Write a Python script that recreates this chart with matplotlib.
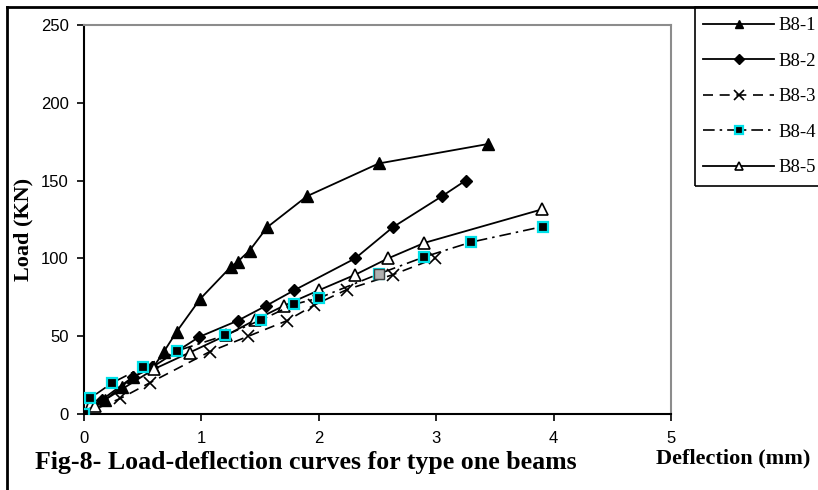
import matplotlib
matplotlib.use("Agg")
import matplotlib.pyplot as plt
from matplotlib.lines import Line2D
from matplotlib.patches import Rectangle

# ---- data ----
b81_x = [0.0, 0.18, 0.32, 0.42, 0.59, 0.68, 0.79, 0.99, 1.25, 1.31, 1.41, 1.56, 1.90, 2.51, 3.44]
b81_y = [0, 9, 17.5, 24, 30, 40, 53, 74, 94.5, 98, 105, 120, 140, 161, 173.5]

b82_x = [0.0, 0.15, 0.42, 0.58, 0.98, 1.31, 1.55, 1.79, 2.31, 2.63, 3.05, 3.25]
b82_y = [0, 9, 24, 30, 49.5, 60, 69.5, 79.5, 100, 120, 140, 150]

b83_x = [0.0, 0.31, 0.56, 1.07, 1.40, 1.73, 1.96, 2.24, 2.63, 2.99]
b83_y = [0, 10, 20, 40, 50, 60, 70, 80, 89.5, 100]

b84_x = [0.0, 0.05, 0.24, 0.50, 0.79, 1.20, 1.51, 1.79, 2.0, 2.51, 2.90, 3.30, 3.91]
b84_y = [0, 10, 20, 30, 40.5, 50.5, 60.5, 70.5, 74.5, 90, 101, 110.5, 120.5]
b84_gray_index = 9

b85_x = [0.0, 0.09, 0.60, 0.90, 1.21, 1.46, 1.70, 2.0, 2.31, 2.59, 2.90, 3.90]
b85_y = [0, 5, 29, 39.5, 50.5, 60.5, 69.5, 79.5, 89.5, 100, 110, 131.5]

series_names = ["B8-1", "B8-2", "B8-3", "B8-4", "B8-5"]
x_ticks = [0, 1, 2, 3, 4, 5]
y_ticks = [0, 50, 100, 150, 200, 250]

W, H = 818, 490
fig = plt.figure(figsize=(W / 100, H / 100), dpi=100)
fig.patch.set_facecolor("white")

ax = fig.add_axes([84 / W, 1 - 414 / H, (671 - 84) / W, (414 - 25) / H])

ms = 8
l1, = ax.plot(b81_x, b81_y, color="black", lw=1.3, ls="-", marker="^", ms=ms,
              mfc="black", mec="black", label=series_names[0], zorder=3)
l2, = ax.plot(b82_x, b82_y, color="black", lw=1.3, ls="-", marker="D", ms=6,
              mfc="black", mec="black", label=series_names[1], zorder=3)
l3, = ax.plot(b83_x, b83_y, color="black", lw=1.2, ls=(0, (6, 4)), marker="x", ms=9,
              mew=1.2, mec="black", label=series_names[2], zorder=3)
l4, = ax.plot(b84_x, b84_y, color="black", lw=1.2, ls=(0, (7, 3, 1.5, 3)), marker="s", ms=7,
              mfc="black", mec="#00e0e8", mew=1.6, label=series_names[3], zorder=4)
ax.plot([b84_x[b84_gray_index]], [b84_y[b84_gray_index]], ls="none", marker="s", ms=7,
        mfc="#b0b0b0", mec="#404040", mew=1.0, zorder=5)
l5, = ax.plot(b85_x, b85_y, color="black", lw=1.3, ls="-", marker="^", ms=ms,
              mfc="white", mec="black", mew=1.2, label=series_names[4], zorder=3)

ax.set_xlim(0, 5)
ax.set_ylim(0, 250)
ax.set_xticks(x_ticks)
ax.set_yticks(y_ticks)
ax.tick_params(direction="out", length=5, width=1.2, labelsize=12, colors="black")
for lab in ax.get_xticklabels() + ax.get_yticklabels():
    lab.set_fontfamily("Liberation Sans")
ax.tick_params(axis="x", pad=7)
ax.tick_params(axis="y", pad=6)
for s in ["left", "bottom"]:
    ax.spines[s].set_color("black")
    ax.spines[s].set_linewidth(1.5)
for s in ["top", "right"]:
    ax.spines[s].set_color("#8c8c8c")
    ax.spines[s].set_linewidth(1.5)

serif = "Liberation Serif"
fig.text(23 / W, 1 - 229 / H, "Load (KN)", rotation=90, ha="center", va="center",
         fontsize=16, fontweight="bold", family=serif)
fig.text(733 / W, 1 - 458 / H, "Deflection (mm)", ha="center", va="center",
         fontsize=16, fontweight="bold", family=serif)
fig.text(35 / W, 1 - 462 / H, "Fig-8- Load-deflection curves for type one beams",
         ha="left", va="center", fontsize=18.6, fontweight="bold", family=serif)

# outer border
fig.add_artist(Line2D([7 / W, 1.0], [1 - 7 / H, 1 - 7 / H], color="black", lw=2,
                      transform=fig.transFigure))
fig.add_artist(Line2D([7 / W, 7 / W], [0, 1 - 7 / H], color="black", lw=2,
                      transform=fig.transFigure))

# legend box
fig.add_artist(Rectangle((695 / W, 1 - 186 / H), (W - 695 + 5) / W, (186 - 7) / H,
                         transform=fig.transFigure, fill=False, ec="black", lw=1.2))
leg = fig.legend(handles=[l1, l2, l3, l4, l5], loc="upper left",
                 bbox_to_anchor=(703 / W, 1 - 17 / H), frameon=False,
                 prop={"family": serif, "size": 13.5}, handlelength=3.8,
                 handletextpad=0.25, labelspacing=0.98, borderaxespad=0, borderpad=0,
                 markerscale=0.8)

fig.savefig("out.png", dpi=100)
